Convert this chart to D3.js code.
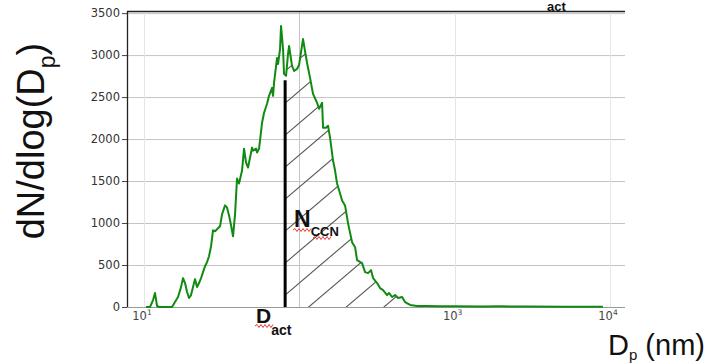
<!DOCTYPE html>
<html>
<head>
<meta charset="utf-8">
<script src="https://cdn.jsdelivr.net/npm/d3@7"></script>
<style>
  body { margin: 0; background: #fff; }
  svg { display: block; }
</style>
</head>
<body>
<script>
// size distribution (nm, dN/dlogDp)
var diameters = [10.3, 10.93, 11.43, 11.77, 12.13, 12.5, 15.15, 15.83, 16.55, 17.31, 17.83, 18.37, 18.92, 19.49,
  20.07, 20.68, 21.30, 21.94, 22.61, 23.28, 23.99, 24.71, 25.45, 26.21, 27.01, 27.82, 28.66, 29.52,
  30.86, 31.79, 33.23, 34.22, 35.26, 36.32, 37.42, 38.55, 39.70, 40.90, 42.76, 44.05, 45.38, 46.74,
  49.60, 50.35, 52.64, 53.42, 55.03, 57.53, 59.27, 61.95, 63.82, 66.72, 67.72, 68.72, 71.85, 72.92,
  75.11, 76.24, 78.53, 79.70, 82.10, 84.57, 85.84, 89.74, 92.46, 96.65, 99.57, 105.6, 112.1, 117.2,
  122.5, 130.0, 134.0, 140.1, 142.1, 148.6, 153.0, 157.6, 164.8, 169.8, 174.9, 182.9, 188.4, 196.9,
  205.9, 218.5, 228.5, 235.3, 253.3, 264.9, 276.9, 289.5, 298.3, 316.5, 330.8, 345.8, 367.0, 378.1,
  395.3, 413.2, 432.2, 458.5, 479.3, 516.4, 572.6, 664.2, 800, 1000, 1500, 2000, 3000, 5000, 9000];
var dNdlogDp = [0, 0, 83, 166, 12, 0, 0, 59, 119, 237, 344, 285, 178, 107,
  142, 237, 332, 237, 285, 344, 415, 486, 534, 605, 724, 913, 902, 925,
  961, 1103, 1210, 1186, 1091, 973, 842, 1103, 1530, 1471, 1625, 1886, 1720, 1661,
  1898, 1862, 1886, 1839, 1886, 2194, 2313, 2420, 2515, 2610, 2515, 2669, 2966, 2894,
  3072, 3345, 3072, 2776, 2752, 3013, 3108, 2871, 2811, 2835, 2882, 3191, 2906, 2728,
  2538, 2432, 2361, 2432, 2135, 2135, 2159, 2017, 1744, 1625, 1471, 1352, 1269, 1210,
  996, 771, 712, 558, 522, 415, 403, 439, 344, 285, 225, 202, 142, 166,
  119, 142, 107, 119, 59, 24, 12, 12, 8, 10, 6, 8, 5, 4, 3];

var yTicks = [0, 500, 1000, 1500, 2000, 2500, 3000, 3500];
var xGridExp = [1, 2, 3, 4];
var xLabelExp = [1, 3, 4];
var dact = 81;        // activation diameter, nm
var dactTop = 2700;

var width = 709, height = 364;

var x = d3.scaleLog().domain([7.77, 12490]).range([127, 625]);
var y = d3.scaleLinear().domain([0, 3525]).range([307, 11]);

var data = diameters.map(function(d, i) { return {dp: d, v: dNdlogDp[i]}; });

var svg = d3.select("body").append("svg")
  .attr("width", width)
  .attr("height", height);

// grid
svg.append("g").selectAll("line").data(yTicks).enter().append("line")
  .attr("x1", 127).attr("x2", 625)
  .attr("y1", function(d) { return y(d) + 0.5; })
  .attr("y2", function(d) { return y(d) + 0.5; })
  .attr("stroke", function(d) { return (d == 0) ? "#999" : "#c4c4c4"; })
  .attr("stroke-width", 1);

svg.append("g").selectAll("line").data(xGridExp).enter().append("line")
  .attr("x1", function(d) { return Math.round(x(Math.pow(10, d))) + 0.5; })
  .attr("x2", function(d) { return Math.round(x(Math.pow(10, d))) + 0.5; })
  .attr("y1", 11).attr("y2", 307)
  .attr("stroke", function(d) { return d == 2 ? "#c4c4c4" : "#e6e6e6"; });

// hatch region right of D_act
var hatchData = [{dp: dact, v: dactTop}].concat(data.filter(function(d) { return d.dp > dact; }));
var area = d3.area()
  .x(function(d) { return x(d.dp); })
  .y0(y(0))
  .y1(function(d) { return y(d.v); });

svg.append("clipPath").attr("id", "hclip")
  .append("path").datum(hatchData).attr("d", area);

var xD = x(dact);
var slope = 0.85;
var hatchOffsets = d3.range(-6, 10);
svg.append("g").attr("clip-path", "url(#hclip)")
  .selectAll("line").data(hatchOffsets).enter().append("line")
  .attr("x1", xD)
  .attr("y1", function(k) { return y(0) - 12 - 32 * k; })
  .attr("x2", xD + 400)
  .attr("y2", function(k) { return y(0) - 12 - 32 * k - 400 * slope; })
  .attr("stroke", "#555")
  .attr("stroke-width", 1.1);

// the curve
var line = d3.line()
  .x(function(d) { return x(d.dp); })
  .y(function(d) { return y(d.v); });

svg.append("path")
  .datum(data)
  .attr("fill", "none")
  .attr("stroke", "#118a11")
  .attr("stroke-width", 2)
  .attr("stroke-linejoin", "round")
  .attr("d", line);

// D_act line
svg.append("line")
  .attr("x1", xD).attr("x2", xD)
  .attr("y1", y(0)).attr("y2", y(dactTop))
  .attr("stroke", "#000")
  .attr("stroke-width", 3);

// frame: top and left
svg.append("line").attr("x1", 127).attr("x2", 625).attr("y1", 11.5).attr("y2", 11.5)
  .attr("stroke", "#222").attr("stroke-width", 1.3);
svg.append("line").attr("x1", 127.5).attr("x2", 127.5).attr("y1", 11).attr("y2", 307)
  .attr("stroke", "#222").attr("stroke-width", 1.3);

// y ticks
var yt = svg.append("g").selectAll("g").data(yTicks).enter().append("g");
yt.append("line")
  .attr("x1", 122).attr("x2", 127)
  .attr("y1", function(d) { return y(d) + 0.5; })
  .attr("y2", function(d) { return y(d) + 0.5; })
  .attr("stroke", "#444");
yt.append("text")
  .attr("x", 120)
  .attr("y", function(d) { return y(d) + 4; })
  .attr("text-anchor", "end")
  .attr("font-family", "DejaVu Sans")
  .attr("font-size", 11.5)
  .attr("fill", "#333")
  .text(function(d) { return d; });

// x tick labels 10^n
var xt = svg.append("g").selectAll("text").data(xLabelExp).enter().append("text")
  .attr("x", function(d) { return x(Math.pow(10, d)) - 2; })
  .attr("y", 320)
  .attr("text-anchor", "middle")
  .attr("font-family", "DejaVu Sans")
  .attr("font-size", 11.5)
  .attr("fill", "#444");
xt.append("tspan").text("10");
xt.append("tspan").attr("dy", -5).attr("font-size", 7.5).text(function(d) { return d; });

// axis titles
var yl = svg.append("text")
  .attr("transform", "translate(44,141) rotate(-90)")
  .attr("text-anchor", "middle")
  .attr("font-family", "Liberation Sans, Arial, sans-serif")
  .attr("font-size", 38)
  .attr("fill", "#111");
yl.append("tspan").text("dN/dlog(D");
yl.append("tspan").attr("dy", 11).attr("font-size", 23).text("p");
yl.append("tspan").attr("dy", -11).text(")");

var xl = svg.append("text")
  .attr("x", 608).attr("y", 355)
  .attr("font-family", "Liberation Sans, Arial, sans-serif")
  .attr("font-size", 29)
  .attr("fill", "#111");
xl.append("tspan").text("D");
xl.append("tspan").attr("dy", 5).attr("font-size", 15).text("p");
xl.append("tspan").attr("dy", -5).text(" (nm)");

// annotations
function squiggle(x0, x1, yy) {
  var p = "M" + x0 + "," + yy;
  var up = true;
  for (var xx = x0 + 2; xx <= x1; xx += 2) {
    p += "L" + xx + "," + (yy + (up ? -1.5 : 1.5));
    up = !up;
  }
  svg.append("path").attr("d", p).attr("fill", "none")
    .attr("stroke", "#e03a3a").attr("stroke-width", 1);
}

var da = svg.append("text")
  .attr("x", 256).attr("y", 323)
  .attr("font-family", "Liberation Sans, Arial, sans-serif")
  .attr("font-weight", "bold")
  .attr("font-size", 21)
  .attr("fill", "#111");
da.append("tspan").text("D");
da.append("tspan").attr("dy", 12).attr("font-size", 14).text("act");
squiggle(255, 273, 326);

var nc = svg.append("text")
  .attr("x", 294).attr("y", 227)
  .attr("font-family", "Liberation Sans, Arial, sans-serif")
  .attr("font-weight", "bold")
  .attr("font-size", 23)
  .attr("fill", "#111");
nc.append("tspan").text("N");
nc.append("tspan").attr("dy", 9).attr("font-size", 13).text("CCN");
squiggle(293, 312, 230);
squiggle(313, 331, 238);

// label at the top edge (cut in the source picture)
svg.append("text")
  .attr("x", 547).attr("y", 10.5)
  .attr("font-family", "Liberation Sans, Arial, sans-serif")
  .attr("font-weight", "bold")
  .attr("font-size", 13)
  .attr("fill", "#111")
  .text("act");
</script>
</body>
</html>
